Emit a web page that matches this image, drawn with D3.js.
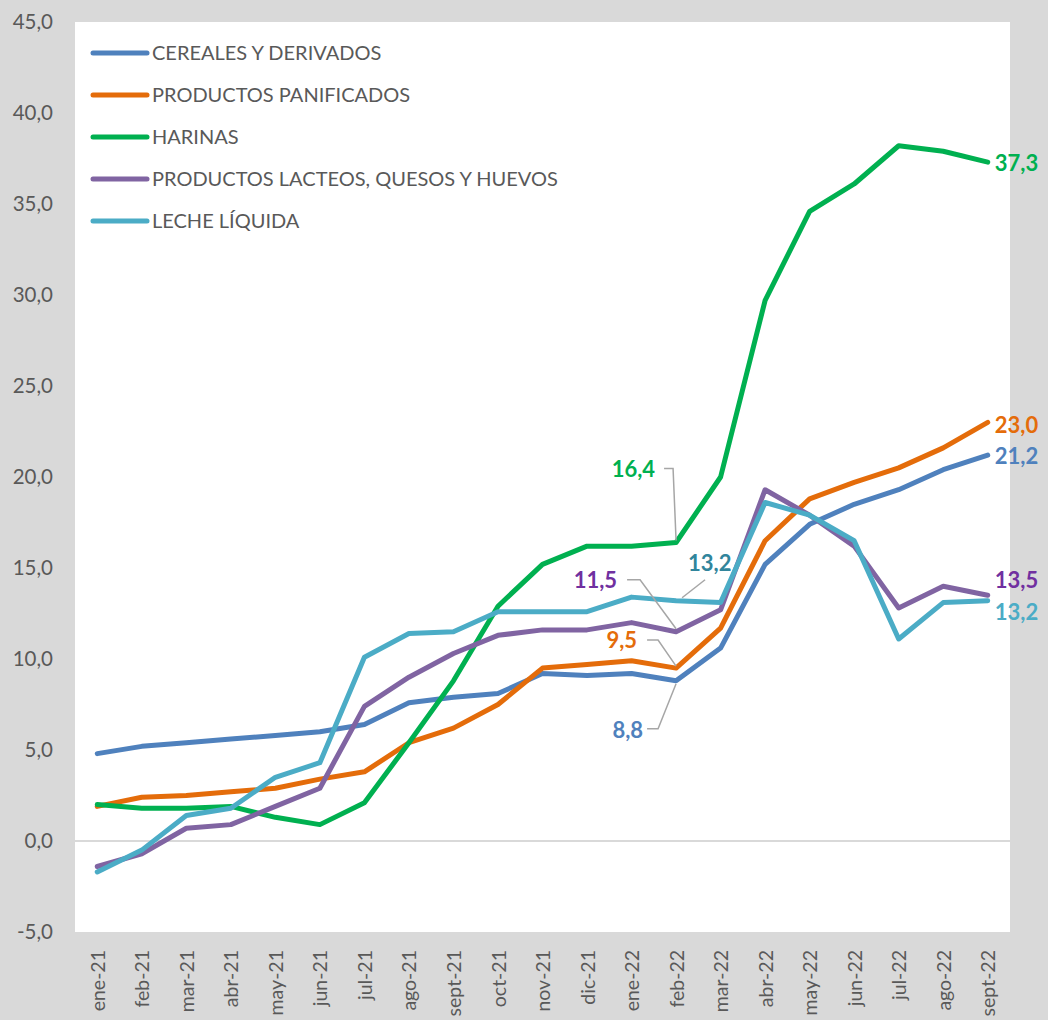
<!DOCTYPE html>
<html>
<head>
<meta charset="utf-8">
<script src="https://cdn.jsdelivr.net/npm/d3@7"></script>
<style>
  html, body { margin: 0; padding: 0; background: #d9d9d9; }
  svg { display: block; }
  text { font-family: "Lato", "Open Sans", sans-serif; }
</style>
</head>
<body>
<svg id="chart" width="1048" height="1020"></svg>
<script>
// Monthly categories
const months = ["ene-21","feb-21","mar-21","abr-21","may-21","jun-21","jul-21","ago-21","sept-21",
  "oct-21","nov-21","dic-21","ene-22","feb-22","mar-22","abr-22","may-22","jun-22","jul-22","ago-22","sept-22"];

// Series values (%)
const cereales    = [4.8, 5.2, 5.4, 5.6, 5.8, 6.0, 6.4, 7.6, 7.9, 8.1, 9.2, 9.1, 9.2, 8.8, 10.6, 15.2, 17.4, 18.5, 19.3, 20.4, 21.2];
const panificados = [1.9, 2.4, 2.5, 2.7, 2.9, 3.4, 3.8, 5.4, 6.2, 7.5, 9.5, 9.7, 9.9, 9.5, 11.7, 16.5, 18.8, 19.7, 20.5, 21.6, 23.0];
const harinas     = [2.0, 1.8, 1.8, 1.9, 1.3, 0.9, 2.1, 5.4, 8.8, 12.9, 15.2, 16.2, 16.2, 16.4, 20.0, 29.7, 34.6, 36.1, 38.2, 37.9, 37.3];
const lacteos     = [-1.4, -0.7, 0.7, 0.9, 1.9, 2.9, 7.4, 9.0, 10.3, 11.3, 11.6, 11.6, 12.0, 11.5, 12.7, 19.3, 17.9, 16.2, 12.8, 14.0, 13.5];
const leche       = [-1.7, -0.5, 1.4, 1.8, 3.5, 4.3, 10.1, 11.4, 11.5, 12.6, 12.6, 12.6, 13.4, 13.2, 13.1, 18.6, 17.9, 16.5, 11.1, 13.1, 13.2];

// Y-axis tick values
const yTicks = [-5, 0, 5, 10, 15, 20, 25, 30, 35, 40, 45];

const seriesNames = ["CEREALES Y DERIVADOS", "PRODUCTOS PANIFICADOS", "HARINAS",
  "PRODUCTOS LACTEOS, QUESOS Y HUEVOS", "LECHE LÍQUIDA"];
const seriesValues = [cereales, panificados, harinas, lacteos, leche];
const seriesColors = ["#4f81bd", "#e46c0a", "#00b050", "#8064a2", "#4bacc6"];
const labelColors  = ["#4f81bd", "#e46c0a", "#00b050", "#7030a0", "#4bacc6"];

const fmt = v => v.toFixed(1).replace(".", ",");

const svg = d3.select("#chart");
const plot = { left: 75, right: 1010, top: 22, bottom: 932 };

const x = d3.scalePoint().domain(months).range([plot.left, plot.right]).padding(0.5);
const y = d3.scaleLinear().domain([-5, 45]).range([plot.bottom, plot.top]);

// Plot background
svg.append("rect")
  .attr("x", plot.left).attr("y", plot.top)
  .attr("width", plot.right - plot.left).attr("height", plot.bottom - plot.top)
  .attr("fill", "#ffffff");

// Zero reference line
svg.append("line")
  .attr("x1", plot.left).attr("x2", plot.right)
  .attr("y1", y(0)).attr("y2", y(0))
  .attr("stroke", "#d9d9d9").attr("stroke-width", 2);

// Y axis
const yAxis = svg.append("g")
  .attr("transform", `translate(${plot.left},0)`)
  .call(d3.axisLeft(y).tickValues(yTicks).tickSize(0).tickPadding(22).tickFormat(fmt));
yAxis.select(".domain").remove();
yAxis.selectAll("text")
  .attr("fill", "#595959").style("font-size", "20.5px").style("font-family", "Lato, sans-serif");

// X axis with vertical labels
const xAxis = svg.append("g")
  .attr("transform", `translate(0,${plot.bottom})`)
  .call(d3.axisBottom(x).tickSize(0));
xAxis.select(".domain").remove();
xAxis.selectAll("text")
  .attr("fill", "#595959").style("font-size", "19.5px").style("font-family", "Lato, sans-serif")
  .attr("transform", "rotate(-90)")
  .attr("text-anchor", "end")
  .attr("x", -18).attr("y", 0).attr("dy", "0.36em");

// Series lines
const line = d3.line().x((d, i) => x(months[i])).y(d => y(d));
seriesValues.forEach((vals, k) => {
  svg.append("path")
    .datum(vals)
    .attr("d", line)
    .attr("fill", "none")
    .attr("stroke", seriesColors[k])
    .attr("stroke-width", 5)
    .attr("stroke-linejoin", "round")
    .attr("stroke-linecap", "round");
});

// Legend
const legend = svg.append("g").attr("transform", "translate(93,53)");
seriesNames.forEach((name, k) => {
  const g = legend.append("g").attr("transform", `translate(0,${k * 42})`);
  g.append("line").attr("x1", 0).attr("x2", 54).attr("y1", 0).attr("y2", 0)
    .attr("stroke", seriesColors[k]).attr("stroke-width", 5).attr("stroke-linecap", "round");
  g.append("text").attr("x", 59).attr("y", 0).attr("dy", "0.36em")
    .attr("fill", "#595959").style("font-size", "20px").text(name);
});

// End-of-series value labels
const last = months.length - 1;
const endOffsets = [1, 3, 1, -15, 11];
seriesValues.forEach((vals, k) => {
  svg.append("text")
    .attr("x", x(months[last]) + 7)
    .attr("y", y(vals[last]) + endOffsets[k])
    .attr("dy", "0.36em")
    .attr("fill", labelColors[k])
    .style("font-size", "22px").style("font-weight", "bold")
    .text(fmt(vals[last]));
});

// Callout labels for feb-22 with leader lines
const fi = months.indexOf("feb-22");
const px = x(months[fi]);
const callouts = [
  { k: 2, color: "#00b050", anchor: "end",   tx: px - 21, ty: y(harinas[fi]) - 73,
    pts: [[px - 12, -74], [px - 3, -74], [px, -2]] },
  { k: 4, color: "#31859c", anchor: "start", tx: px + 12, ty: y(leche[fi]) - 38,
    pts: [[px + 29, -21], [px + 6, -3]] },
  { k: 3, color: "#7030a0", anchor: "end",   tx: px - 59, ty: y(lacteos[fi]) - 52,
    pts: [[px - 49, -52], [px - 36, -52], [px, -3]] },
  { k: 1, color: "#e46c0a", anchor: "end",   tx: px - 39, ty: y(panificados[fi]) - 28,
    pts: [[px - 29, -28], [px - 18, -28], [px, -2]] },
  { k: 0, color: "#4f81bd", anchor: "end",   tx: px - 33, ty: y(cereales[fi]) + 49,
    pts: [[px - 29, 48], [px - 18, 48], [px, 3]] }
];
callouts.forEach(c => {
  const py = y(seriesValues[c.k][fi]);
  svg.append("polyline")
    .attr("points", c.pts.map(p => `${p[0]},${py + p[1]}`).join(" "))
    .attr("fill", "none").attr("stroke", "#a6a6a6").attr("stroke-width", 1.5);
  svg.append("text")
    .attr("x", c.tx).attr("y", c.ty).attr("dy", "0.36em")
    .attr("text-anchor", c.anchor)
    .attr("fill", c.color)
    .style("font-size", "22px").style("font-weight", "bold")
    .text(fmt(seriesValues[c.k][fi]));
});
</script>
</body>
</html>
